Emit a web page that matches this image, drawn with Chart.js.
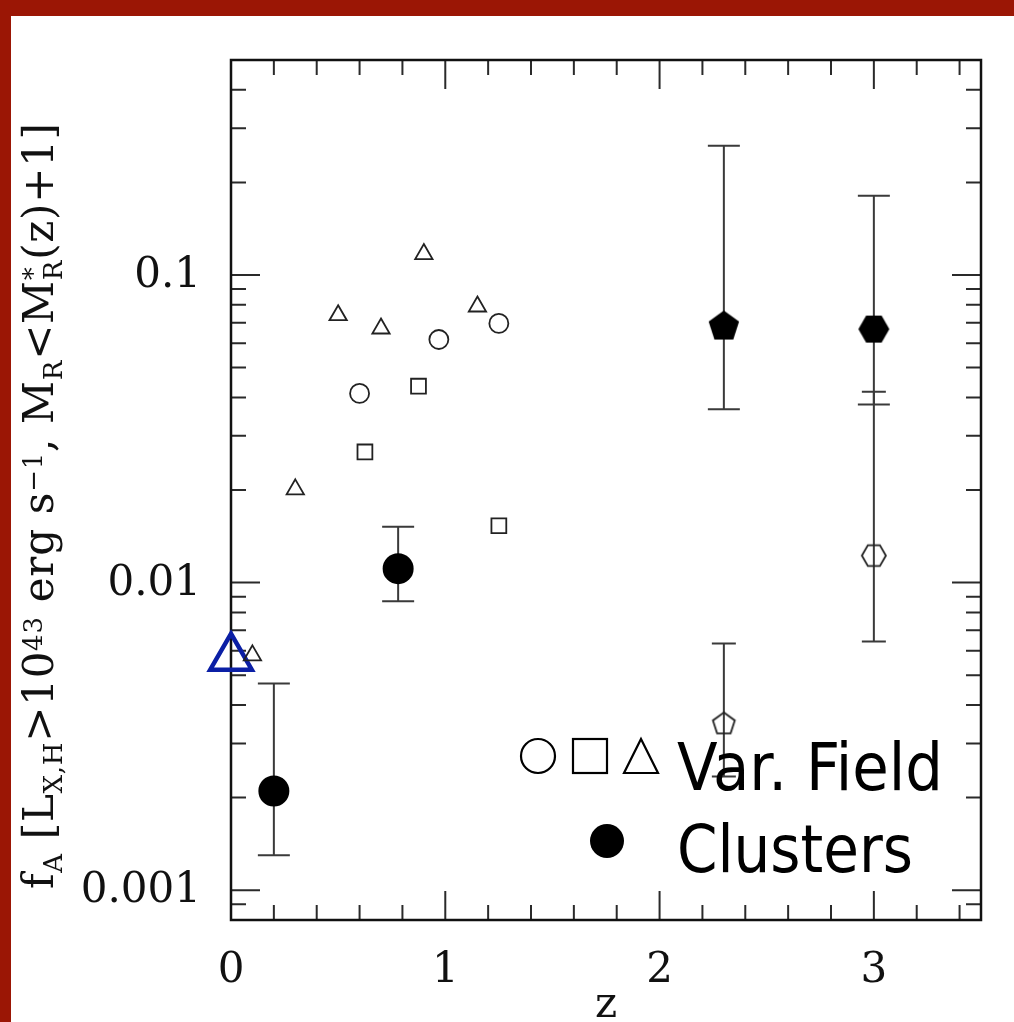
<!DOCTYPE html>
<html>
<head>
<meta charset="utf-8">
<script src="https://cdn.jsdelivr.net/npm/chart.js@4.4.1/dist/chart.umd.min.js"></script>
<style>
  html, body { margin: 0; padding: 0; background: #fff; }
  #wrap { position: relative; width: 1014px; height: 1022px; overflow: hidden; }
  .bar-top { position: absolute; left: 0; top: 0; width: 1014px; height: 16px; background: #9b1605; }
  .bar-left { position: absolute; left: 0; top: 0; width: 11px; height: 1022px; background: #9b1605; }
  canvas { position: absolute; left: 0; top: 0; }
</style>
</head>
<body>
<div id="wrap">
  <canvas id="fa" width="1014" height="1022"></canvas>
  <div class="bar-top"></div>
  <div class="bar-left"></div>
</div>
<script>
// AGN fraction vs redshift
const fieldCircleZ = [0.60, 0.97, 1.25];
const fieldCircleF = [0.0412, 0.0617, 0.0696];
const fieldSquareZ = [0.625, 0.875, 1.25];
const fieldSquareF = [0.0266, 0.0435, 0.0153];
const fieldTriZ = [0.10, 0.30, 0.50, 0.70, 0.90, 1.15];
const fieldTriF = [0.0058, 0.0201, 0.074, 0.067, 0.117, 0.079];

const clusterZ = [0.20, 0.78];
const clusterF = [0.0021, 0.0111];
const clusterLo = [0.0013, 0.0087];
const clusterHi = [0.0047, 0.0152];

const protoPentZ = [2.3];
const protoPentF = [0.068];
const protoPentLo = [0.0366];
const protoPentHi = [0.263];
const protoHexZ = [3.0];
const protoHexF = [0.0667];
const protoHexLo = [0.0379];
const protoHexHi = [0.181];

const fieldPentZ = [2.3];
const fieldPentF = [0.00347];
const fieldPentLo = [0.00234];
const fieldPentHi = [0.00634];
const fieldHexZ = [3.0];
const fieldHexF = [0.01224];
const fieldHexLo = [0.00644];
const fieldHexHi = [0.0417];

const localZ = [0];
const localF = [0.0057];

const xMajor = [0, 1, 2, 3];
const yMajor = [0.001, 0.01, 0.1];
const yMajorLabels = ["0.001", "0.01", "0.1"];

const INK = "#222";
const SERIF = "'DejaVu Serif', 'Liberation Serif', serif";

const pts = (xs, ys) => xs.map((x, i) => ({ x, y: ys[i] }));

// regular polygon marker as an offscreen canvas (used as pointStyle)
function polygon(n, R, filled, lw, rot) {
  const size = Math.ceil(2 * R + lw + 4);
  const c = document.createElement("canvas");
  c.width = c.height = size;
  const g = c.getContext("2d");
  g.beginPath();
  for (let i = 0; i < n; i++) {
    const a = rot + i * 2 * Math.PI / n;
    const px = size / 2 + R * Math.cos(a), py = size / 2 + R * Math.sin(a);
    i ? g.lineTo(px, py) : g.moveTo(px, py);
  }
  g.closePath();
  if (filled) { g.fillStyle = "#000"; g.fill(); }
  else { g.strokeStyle = INK; g.lineWidth = lw; g.stroke(); }
  return c;
}

const openMark = (style, r) => ({
  pointStyle: style, pointRadius: r, pointBorderWidth: 1.8,
  pointBorderColor: INK, pointBackgroundColor: "rgba(0,0,0,0)",
});

const datasets = [
  { data: pts(fieldCircleZ, fieldCircleF), ...openMark("circle", 9.5) },
  { data: pts(fieldSquareZ, fieldSquareF), ...openMark("rect", 10.5) },
  { data: pts(fieldTriZ, fieldTriF), ...openMark("triangle", 10) },
  { data: pts(clusterZ, clusterF), pointStyle: "circle", pointRadius: 15.5, pointBorderWidth: 0,
    pointBackgroundColor: "#000", errLo: clusterLo, errHi: clusterHi, cap: 32 },
  { data: pts(protoPentZ, protoPentF), pointStyle: polygon(5, 16, true, 0, -Math.PI / 2),
    errLo: protoPentLo, errHi: protoPentHi, cap: 32 },
  { data: pts(protoHexZ, protoHexF), pointStyle: polygon(6, 15.5, true, 0, 0),
    errLo: protoHexLo, errHi: protoHexHi, cap: 32 },
  { data: pts(fieldPentZ, fieldPentF), pointStyle: polygon(5, 11.5, false, 1.8, -Math.PI / 2),
    errLo: fieldPentLo, errHi: fieldPentHi, cap: 24 },
  { data: pts(fieldHexZ, fieldHexF), pointStyle: polygon(6, 12, false, 1.8, 0),
    errLo: fieldHexLo, errHi: fieldHexHi, cap: 24 },
  { data: pts(localZ, localF), pointStyle: "triangle", pointRadius: 24, pointBorderWidth: 4.5,
    pointBorderColor: "#0b1fa5", pointBackgroundColor: "rgba(0,0,0,0)", clip: false },
];

const errorBars = {
  id: "errorBars",
  beforeDatasetsDraw(chart) {
    const { ctx, scales: { x, y } } = chart;
    ctx.save();
    ctx.strokeStyle = "#3a3a3a";
    ctx.lineWidth = 2;
    chart.data.datasets.forEach((ds) => {
      if (!ds.errLo) return;
      ds.data.forEach((p, i) => {
        const px = x.getPixelForValue(p.x);
        const lo = y.getPixelForValue(ds.errLo[i]), hi = y.getPixelForValue(ds.errHi[i]);
        const h = ds.cap / 2;
        ctx.beginPath();
        ctx.moveTo(px, lo); ctx.lineTo(px, hi);
        ctx.moveTo(px - h, lo); ctx.lineTo(px + h, lo);
        ctx.moveTo(px - h, hi); ctx.lineTo(px + h, hi);
        ctx.stroke();
      });
    });
    ctx.restore();
  },
};

// frame, inward ticks on all four sides, tick labels
const frame = {
  id: "frame",
  beforeDatasetsDraw(chart) {
    const { ctx, chartArea: a, scales: { x, y } } = chart;
    ctx.save();
    ctx.strokeStyle = "#2a2a2a";
    ctx.lineWidth = 2;
    ctx.beginPath();
    for (let v = 0; v <= x.max + 1e-9; v += 0.2) {
      const px = x.getPixelForValue(v);
      const len = Math.abs(v - Math.round(v)) < 1e-6 ? 29 : 15;
      ctx.moveTo(px, a.bottom); ctx.lineTo(px, a.bottom - len);
      ctx.moveTo(px, a.top); ctx.lineTo(px, a.top + len);
    }
    for (let d = -4; d <= 0; d++) {
      for (let m = 1; m <= 9; m++) {
        const v = m * Math.pow(10, d);
        if (v < y.min || v > y.max) continue;
        const py = y.getPixelForValue(v);
        const len = m === 1 ? 29 : 15;
        ctx.moveTo(a.left, py); ctx.lineTo(a.left + len, py);
        ctx.moveTo(a.right, py); ctx.lineTo(a.right - len, py);
      }
    }
    ctx.stroke();
    ctx.strokeStyle = "#111";
    ctx.lineWidth = 2.5;
    ctx.strokeRect(a.left, a.top, a.right - a.left, a.bottom - a.top);

    ctx.fillStyle = "#111";
    ctx.font = "42px " + SERIF;
    ctx.textAlign = "right";
    ctx.textBaseline = "middle";
    yMajor.forEach((v, i) => ctx.fillText(yMajorLabels[i], 201, y.getPixelForValue(v) + 1));
    ctx.textAlign = "center";
    ctx.textBaseline = "alphabetic";
    xMajor.forEach((v) => ctx.fillText(String(v), x.getPixelForValue(v), 982));
    ctx.fillText("z", (a.left + a.right) / 2, 1017);
    ctx.restore();
  },
};

// rotated y-axis title with sub/superscripts
const titleParts = [
  { t: "f" }, { sub: "A" }, { t: " [" }, { t: "L" }, { sub: "X,H" }, { t: ">10" }, { sup: "43" },
  { t: " erg s" }, { sup: "\u22121" }, { t: ", M" }, { sub: "R" }, { t: "<M" },
  { sup: "*", sub: "R" }, { t: "(z)+1]" },
];
const yTitle = {
  id: "yTitle",
  afterDraw(chart) {
    const ctx = chart.ctx;
    const big = "42px " + SERIF, small = "26px " + SERIF;
    const run = (draw) => {
      let x = 0, n = 0;
      titleParts.forEach((p) => {
        const segs = p.t ? [[p.t, big, 0]] : [p.sup && [p.sup, small, -11], p.sub && [p.sub, small, 9]].filter(Boolean);
        const len = Math.max(...segs.map((s) => s[0].length));
        for (let k = 0; k < len; k++) {
          let adv = 0;
          segs.forEach(([s, f, dy]) => {
            if (k >= s.length) return;
            ctx.font = f;
            const w = ctx.measureText(s[k]).width;
            if (draw) ctx.fillText(s[k], x, dy);
            adv = Math.max(adv, w);
          });
          x += adv + (draw ? draw.ls : 0);
          n++;
        }
      });
      return { w: x, n };
    };
    ctx.save();
    const natural = run(null);
    const ls = (766 - natural.w) / (natural.n - 1);
    ctx.translate(53, 889);
    ctx.rotate(-Math.PI / 2);
    ctx.fillStyle = "#111";
    ctx.textBaseline = "alphabetic";
    run({ ls });
    ctx.restore();
  },
};

// legend in the lower right of the plot
const legendBox = {
  id: "legendBox",
  afterDraw(chart) {
    const ctx = chart.ctx;
    ctx.save();
    ctx.strokeStyle = "#000";
    ctx.lineWidth = 2.2;
    ctx.beginPath(); ctx.arc(538, 756, 17, 0, Math.PI * 2); ctx.stroke();
    ctx.strokeRect(573, 739, 34, 34);
    ctx.beginPath(); ctx.moveTo(641, 739); ctx.lineTo(658, 773); ctx.lineTo(624, 773); ctx.closePath(); ctx.stroke();
    ctx.fillStyle = "#000";
    ctx.beginPath(); ctx.arc(607, 841, 17, 0, Math.PI * 2); ctx.fill();

    ctx.font = "66px 'DejaVu Sans', Verdana, sans-serif";
    ctx.textBaseline = "alphabetic";
    const label = (s, x0, base, width) => {
      const w = ctx.measureText(s).width;
      ctx.save();
      ctx.translate(x0, base);
      ctx.scale(width / w, 1);
      ctx.fillText(s, 0, 0);
      ctx.restore();
    };
    label("Var. Field", 677, 790, 266);
    label("Clusters", 677, 872, 236);
    ctx.restore();
  },
};

new Chart(document.getElementById("fa"), {
  type: "scatter",
  data: { datasets },
  options: {
    responsive: false,
    animation: false,
    events: [],
    layout: { padding: { left: 231, right: 33, top: 60, bottom: 102 } },
    plugins: { legend: { display: false }, tooltip: { enabled: false } },
    scales: {
      x: { type: "linear", min: 0, max: 3.5, display: false },
      y: { type: "logarithmic", min: 0.0008, max: 0.5, display: false },
    },
  },
  plugins: [frame, errorBars, yTitle, legendBox],
});
</script>
</body>
</html>
